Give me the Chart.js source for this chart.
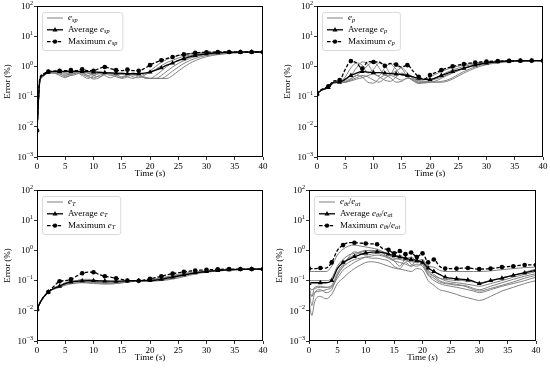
<!DOCTYPE html>
<html>
<head>
<meta charset="utf-8">
<script src="https://cdn.jsdelivr.net/npm/chart.js@4.4.1/dist/chart.umd.min.js"></script>
<style>
  body { margin: 0; background: #fff; width: 550px; height: 368px; position: relative; overflow: hidden; }
  .panel { position: absolute; width: 275px; height: 184px; }
</style>
</head>
<body>
<div class="panel" style="left:0;top:0"><canvas id="c1" width="275" height="184"></canvas></div>
<div class="panel" style="left:275px;top:0"><canvas id="c2" width="275" height="184"></canvas></div>
<div class="panel" style="left:0;top:184px"><canvas id="c3" width="275" height="184"></canvas></div>
<div class="panel" style="left:275px;top:184px"><canvas id="c4" width="275" height="184"></canvas></div>
<script>
// time samples (s), shared by every curve
const times = [0, 0.5, 1,
  2, 3, 4, 5, 6, 7, 8, 9, 10,
  11, 12, 13, 14, 15, 16, 17, 18, 19, 20,
  21, 22, 23, 24, 25, 26, 27, 28, 29, 30,
  32, 34, 36, 38, 40];

const xTicks = [0, 5, 10, 15, 20, 25, 30, 35, 40];
const yDecades = [-3, -2, -1, 0, 1, 2];

const marksEven = [0, 2, 4, 6, 8, 10, 12, 14, 16, 18, 20, 22, 24, 26, 28, 30, 32, 34, 36, 38, 40];
const marksRatio = [0, 2, 4, 6, 8, 10, 12, 14, 15, 16, 17, 18, 19, 20, 21, 22, 24, 26, 28, 30, 32, 34, 36, 38, 40];

// ---- e_sp ----
const avgSp = [0.0075, 0.35, 0.5,
  0.65, 0.68, 0.68, 0.68, 0.68, 0.68, 0.68, 0.67, 0.65,
  0.64, 0.62, 0.61, 0.6, 0.59, 0.58, 0.57, 0.58, 0.6, 0.65,
  0.75, 0.9, 1.1, 1.3, 1.55, 1.8, 2.05, 2.3, 2.45, 2.6,
  2.8, 2.9, 2.95, 3.0, 3.0];
const maxSp = [0.0075, 0.4, 0.55,
  0.67, 0.7, 0.72, 0.72, 0.75, 0.72, 0.8, 0.72, 0.72,
  0.85, 0.95, 0.85, 0.75, 0.72, 0.78, 0.72, 0.72, 0.85, 1.1,
  1.35, 1.6, 1.85, 2.05, 2.3, 2.5, 2.65, 2.8, 2.9, 2.95,
  3.0, 3.0, 3.0, 3.0, 3.0];
const runsSp = [
  [0.0075, 0.3, 0.45,
   0.62, 0.65, 0.6, 0.55, 0.6, 0.65, 0.6, 0.5, 0.55,
   0.62, 0.6, 0.5, 0.55, 0.6, 0.55, 0.45, 0.42, 0.5, 0.7,
   1.0, 1.35, 1.7, 2.0, 2.3, 2.5, 2.65, 2.75, 2.85, 2.9,
   2.95, 3.0, 3.0, 3.0, 3.0],
  [0.0075, 0.32, 0.47,
   0.6, 0.62, 0.65, 0.6, 0.5, 0.55, 0.65, 0.6, 0.5,
   0.45, 0.55, 0.62, 0.55, 0.45, 0.5, 0.6, 0.55, 0.42, 0.4,
   0.5, 0.7, 1.0, 1.3, 1.6, 1.9, 2.2, 2.4, 2.55, 2.7,
   2.85, 2.95, 3.0, 3.0, 3.0],
  [0.0075, 0.3, 0.46,
   0.62, 0.6, 0.55, 0.5, 0.55, 0.62, 0.55, 0.45, 0.42,
   0.5, 0.6, 0.55, 0.45, 0.42, 0.52, 0.6, 0.5, 0.42, 0.4,
   0.4, 0.5, 0.7, 0.95, 1.25, 1.55, 1.85, 2.1, 2.3, 2.5,
   2.75, 2.9, 2.95, 3.0, 3.0],
  [0.0075, 0.33, 0.48,
   0.63, 0.62, 0.58, 0.45, 0.5, 0.6, 0.62, 0.5, 0.38,
   0.42, 0.55, 0.6, 0.5, 0.4, 0.45, 0.55, 0.5, 0.42, 0.4,
   0.4, 0.4, 0.5, 0.7, 0.95, 1.25, 1.55, 1.85, 2.1, 2.3,
   2.6, 2.8, 2.9, 2.95, 3.0],
  [0.0075, 0.31, 0.46,
   0.61, 0.6, 0.5, 0.42, 0.55, 0.62, 0.5, 0.4, 0.48,
   0.58, 0.5, 0.42, 0.5, 0.55, 0.45, 0.4, 0.48, 0.45, 0.4,
   0.4, 0.4, 0.4, 0.5, 0.7, 0.95, 1.25, 1.55, 1.85, 2.1,
   2.45, 2.7, 2.85, 2.9, 2.95],
  [0.0075, 0.34, 0.5,
   0.64, 0.65, 0.66, 0.62, 0.6, 0.62, 0.64, 0.6, 0.56,
   0.58, 0.6, 0.58, 0.55, 0.56, 0.56, 0.52, 0.5, 0.55, 0.62,
   0.8, 1.05, 1.35, 1.6, 1.9, 2.15, 2.35, 2.5, 2.65, 2.75,
   2.9, 2.95, 3.0, 3.0, 3.0]
];

// ---- e_p ----
const avgP = [0.12, 0.15, 0.17,
  0.2, 0.3, 0.3, 0.38, 0.5, 0.6, 0.68, 0.65, 0.62,
  0.62, 0.6, 0.58, 0.56, 0.54, 0.5, 0.45, 0.4, 0.37, 0.37,
  0.42, 0.5, 0.58, 0.68, 0.77, 0.86, 0.98, 1.1, 1.2, 1.3,
  1.42, 1.5, 1.53, 1.55, 1.55];
const maxP = [0.12, 0.16, 0.18,
  0.22, 0.33, 0.35, 0.8, 1.5, 1.3, 0.85, 1.45, 1.4,
  1.4, 1.05, 1.25, 1.15, 0.95, 1.1, 0.7, 0.45, 0.38, 0.52,
  0.62, 0.75, 0.88, 1.0, 1.1, 1.2, 1.28, 1.35, 1.4, 1.45,
  1.5, 1.52, 1.55, 1.55, 1.55];
const runsP = [
  [0.12, 0.15, 0.17,
   0.2, 0.28, 0.3, 0.45, 0.9, 1.3, 1.1, 0.6, 0.8,
   1.3, 1.1, 0.6, 0.7, 0.9, 0.6, 0.4, 0.35, 0.36, 0.45,
   0.55, 0.68, 0.8, 0.92, 1.02, 1.12, 1.22, 1.3, 1.36, 1.42,
   1.48, 1.52, 1.55, 1.55, 1.55],
  [0.12, 0.15, 0.17,
   0.2, 0.3, 0.3, 0.35, 0.5, 0.9, 1.4, 1.2, 0.6,
   0.5, 0.9, 1.2, 0.8, 0.5, 0.55, 0.45, 0.33, 0.32, 0.34,
   0.42, 0.52, 0.64, 0.76, 0.88, 1.0, 1.1, 1.2, 1.28, 1.35,
   1.45, 1.5, 1.53, 1.55, 1.55],
  [0.12, 0.15, 0.17,
   0.2, 0.29, 0.3, 0.3, 0.38, 0.5, 0.7, 1.1, 1.4,
   0.9, 0.5, 0.55, 1.0, 0.85, 0.45, 0.35, 0.3, 0.3, 0.3,
   0.33, 0.4, 0.5, 0.6, 0.72, 0.85, 0.98, 1.1, 1.2, 1.28,
   1.4, 1.48, 1.52, 1.55, 1.55],
  [0.12, 0.15, 0.17,
   0.2, 0.28, 0.29, 0.3, 0.35, 0.42, 0.5, 0.45, 0.35,
   0.3, 0.4, 0.5, 0.42, 0.35, 0.4, 0.38, 0.3, 0.28, 0.3,
   0.3, 0.3, 0.32, 0.38, 0.48, 0.6, 0.74, 0.88, 1.02, 1.14,
   1.32, 1.44, 1.5, 1.53, 1.55],
  [0.12, 0.15, 0.17,
   0.2, 0.29, 0.3, 0.32, 0.4, 0.5, 0.45, 0.3, 0.28,
   0.4, 0.5, 0.42, 0.3, 0.32, 0.42, 0.35, 0.27, 0.3, 0.32,
   0.3, 0.32, 0.35, 0.42, 0.54, 0.68, 0.82, 0.96, 1.1, 1.2,
   1.36, 1.46, 1.52, 1.55, 1.55],
  [0.12, 0.15, 0.17,
   0.2, 0.3, 0.31, 0.3, 0.33, 0.38, 0.42, 0.5, 0.55,
   0.45, 0.35, 0.32, 0.45, 0.6, 0.48, 0.33, 0.28, 0.3, 0.34,
   0.38, 0.44, 0.52, 0.62, 0.74, 0.86, 0.98, 1.1, 1.2, 1.3,
   1.42, 1.5, 1.53, 1.55, 1.55]
];

// ---- e_T ----
const avgT = [0.011, 0.018, 0.026,
  0.042, 0.055, 0.065, 0.08, 0.09, 0.095, 0.098, 0.1, 0.1,
  0.098, 0.097, 0.096, 0.095, 0.096, 0.098, 0.1, 0.1, 0.1, 0.1,
  0.104, 0.11, 0.12, 0.13, 0.142, 0.155, 0.168, 0.18, 0.19, 0.2,
  0.215, 0.228, 0.235, 0.24, 0.24];
const maxT = [0.011, 0.018, 0.026,
  0.042, 0.065, 0.095, 0.1, 0.11, 0.14, 0.175, 0.19, 0.19,
  0.16, 0.14, 0.13, 0.12, 0.11, 0.1, 0.098, 0.098, 0.105, 0.115,
  0.125, 0.14, 0.155, 0.17, 0.18, 0.195, 0.205, 0.215, 0.222, 0.228,
  0.235, 0.24, 0.24, 0.24, 0.24];
const runsT = [
  [0.011, 0.018, 0.026,
   0.042, 0.052, 0.06, 0.07, 0.078, 0.082, 0.085, 0.083, 0.08,
   0.078, 0.076, 0.078, 0.08, 0.085, 0.09, 0.093, 0.095, 0.095, 0.095,
   0.097, 0.1, 0.105, 0.112, 0.122, 0.135, 0.15, 0.165, 0.178, 0.19,
   0.208, 0.222, 0.232, 0.238, 0.24],
  [0.011, 0.018, 0.026,
   0.042, 0.055, 0.065, 0.078, 0.088, 0.092, 0.09, 0.086, 0.084,
   0.082, 0.08, 0.078, 0.08, 0.084, 0.09, 0.095, 0.098, 0.098, 0.098,
   0.1, 0.104, 0.11, 0.12, 0.132, 0.145, 0.16, 0.174, 0.186, 0.196,
   0.212, 0.225, 0.233, 0.238, 0.24],
  [0.011, 0.018, 0.026,
   0.042, 0.058, 0.07, 0.085, 0.095, 0.1, 0.1, 0.098, 0.095,
   0.09, 0.088, 0.086, 0.088, 0.092, 0.096, 0.1, 0.1, 0.1, 0.102,
   0.106, 0.112, 0.12, 0.13, 0.142, 0.155, 0.168, 0.18, 0.19, 0.2,
   0.215, 0.228, 0.235, 0.24, 0.24],
  [0.011, 0.018, 0.026,
   0.042, 0.055, 0.068, 0.08, 0.09, 0.1, 0.11, 0.11, 0.105,
   0.098, 0.092, 0.09, 0.092, 0.095, 0.098, 0.1, 0.1, 0.102, 0.108,
   0.115, 0.124, 0.135, 0.147, 0.16, 0.172, 0.184, 0.194, 0.203, 0.21,
   0.222, 0.232, 0.237, 0.24, 0.24],
  [0.011, 0.018, 0.026,
   0.042, 0.053, 0.062, 0.074, 0.082, 0.086, 0.088, 0.09, 0.092,
   0.094, 0.092, 0.088, 0.086, 0.088, 0.092, 0.096, 0.098, 0.1, 0.104,
   0.11, 0.118, 0.128, 0.14, 0.152, 0.165, 0.178, 0.188, 0.197, 0.205,
   0.218, 0.23, 0.236, 0.24, 0.24],
  [0.011, 0.018, 0.026,
   0.042, 0.056, 0.066, 0.082, 0.092, 0.096, 0.094, 0.09, 0.088,
   0.086, 0.084, 0.082, 0.082, 0.086, 0.092, 0.097, 0.1, 0.1, 0.1,
   0.102, 0.106, 0.114, 0.124, 0.136, 0.15, 0.164, 0.177, 0.188, 0.198,
   0.214, 0.226, 0.234, 0.238, 0.24]
];

// ---- e_theta / e_alpha ----
const avgR = [0.08, 0.085, 0.085,
  0.085, 0.085, 0.1, 0.25, 0.4, 0.5, 0.62, 0.72, 0.82,
  0.88, 0.9, 0.85, 0.75, 0.68, 0.6, 0.55, 0.5, 0.46, 0.4,
  0.26, 0.2, 0.16, 0.13, 0.12, 0.115, 0.11, 0.105, 0.095, 0.08,
  0.1, 0.12, 0.15, 0.18, 0.22];
const maxR = [0.25, 0.25, 0.25,
  0.26, 0.26, 0.4, 1.0, 1.5, 1.8, 1.8, 1.75, 1.7,
  1.65, 1.6, 1.15, 1.05, 0.8, 0.95, 0.75, 0.85, 0.6, 0.8,
  0.4, 0.5, 0.3, 0.25, 0.25, 0.25, 0.26, 0.26, 0.25, 0.24,
  0.25, 0.28, 0.3, 0.33, 0.33];
const runsR = [
  [0.2, 0.2, 0.2,
   0.2, 0.2, 0.3, 0.7, 1.1, 1.4, 1.5, 1.4, 1.3,
   1.2, 1.1, 0.9, 0.8, 0.6, 0.7, 0.55, 0.6, 0.45, 0.5,
   0.3, 0.28, 0.22, 0.2, 0.2, 0.2, 0.2, 0.2, 0.2, 0.2,
   0.21, 0.23, 0.25, 0.27, 0.28],
  [0.06, 0.05, 0.055,
   0.06, 0.06, 0.07, 0.18, 0.35, 0.55, 0.7, 0.85, 0.95,
   1.0, 1.0, 0.9, 0.7, 0.55, 0.5, 0.45, 0.42, 0.4, 0.38,
   0.22, 0.16, 0.12, 0.1, 0.09, 0.085, 0.08, 0.075, 0.07, 0.065,
   0.08, 0.1, 0.13, 0.16, 0.2],
  [0.04, 0.03, 0.04,
   0.045, 0.05, 0.06, 0.12, 0.22, 0.3, 0.4, 0.5, 0.6,
   0.65, 0.7, 0.65, 0.55, 0.45, 0.4, 0.35, 0.3, 0.35, 0.3,
   0.15, 0.1, 0.08, 0.07, 0.065, 0.06, 0.055, 0.05, 0.045, 0.04,
   0.05, 0.065, 0.08, 0.1, 0.13],
  [0.02, 0.007, 0.02,
   0.03, 0.025, 0.035, 0.08, 0.12, 0.18, 0.25, 0.32, 0.4,
   0.42, 0.4, 0.35, 0.3, 0.26, 0.24, 0.22, 0.2, 0.25, 0.22,
   0.1, 0.07, 0.05, 0.045, 0.04, 0.035, 0.03, 0.027, 0.024, 0.022,
   0.03, 0.045, 0.06, 0.08, 0.1],
  [0.05, 0.015, 0.04,
   0.05, 0.04, 0.05, 0.15, 0.3, 0.6, 0.9, 0.8, 0.7,
   0.75, 0.8, 0.7, 0.6, 0.5, 0.65, 0.5, 0.45, 0.4, 0.5,
   0.2, 0.14, 0.1, 0.085, 0.08, 0.075, 0.07, 0.065, 0.055, 0.05,
   0.065, 0.085, 0.11, 0.14, 0.17],
  [0.1, 0.1, 0.1,
   0.1, 0.1, 0.12, 0.3, 0.5, 0.7, 0.8, 0.9, 1.0,
   1.0, 0.95, 0.8, 0.6, 0.45, 0.3, 0.5, 0.35, 0.3, 0.35,
   0.18, 0.14, 0.12, 0.11, 0.105, 0.1, 0.1, 0.095, 0.09, 0.085,
   0.1, 0.12, 0.15, 0.19, 0.24],
  [0.07, 0.03, 0.06,
   0.065, 0.06, 0.065, 0.15, 0.28, 0.4, 0.5, 0.55, 0.6,
   0.55, 0.55, 0.5, 0.45, 0.3, 0.25, 0.4, 0.3, 0.5, 0.35,
   0.16, 0.12, 0.09, 0.08, 0.075, 0.07, 0.068, 0.06, 0.05, 0.045,
   0.055, 0.07, 0.09, 0.12, 0.15]
];

const FONT = "'Liberation Serif', 'DejaVu Serif', serif";
const FS = 9;
const GRAY = '#808080';

function series(arr) {
  return times.map((t, i) => ({ x: t, y: arr[i] }));
}

// draw text made of pieces: 'n' normal, 'i' italic, 's' italic subscript
function richWidth(ctx, parts) {
  let w = 0;
  parts.forEach(([txt, st]) => {
    ctx.font = (st === 'n' ? '' : 'italic ') + (st === 's' ? FS * 0.7 : FS) + 'px ' + FONT;
    w += ctx.measureText(txt).width;
  });
  return w;
}
function drawRich(ctx, parts, x, y) {
  parts.forEach(([txt, st]) => {
    ctx.font = (st === 'n' ? '' : 'italic ') + (st === 's' ? FS * 0.7 : FS) + 'px ' + FONT;
    ctx.fillText(txt, x, st === 's' ? y + 2 : y);
    x += ctx.measureText(txt).width;
  });
}

const decorPlugin = {
  id: 'decor',
  afterDraw(chart, args, opts) {
    const ctx = chart.ctx;
    const a = chart.chartArea;
    const ys = chart.scales.y;
    ctx.save();
    ctx.fillStyle = '#000';
    ctx.strokeStyle = '#000';
    ctx.lineWidth = 1;
    ctx.strokeRect(a.left + 0.5, a.top + 0.5, a.right - a.left - 1, a.bottom - a.top - 1);

    // y tick labels 10^n
    ctx.textBaseline = 'middle';
    yDecades.forEach(p => {
      const y = ys.getPixelForValue(Math.pow(10, p));
      const ex = p < 0 ? '\u2212' + Math.abs(p) : String(p);
      ctx.font = (FS * 0.68) + 'px ' + FONT;
      const ew = ctx.measureText(ex).width;
      ctx.fillText(ex, a.left - 4 - ew, y - 3);
      ctx.font = FS + 'px ' + FONT;
      const bw = ctx.measureText('10').width;
      ctx.fillText('10', a.left - 4 - ew - bw, y + 0.5);
    });

    // axis titles
    ctx.textBaseline = 'middle';
    const xt = [['Time (', 'n'], ['s', 'i'], [')', 'n']];
    const xw = richWidth(ctx, xt);
    drawRich(ctx, xt, (a.left + a.right) / 2 - xw / 2, 174);
    ctx.save();
    ctx.translate(a.left - 29, (a.top + a.bottom) / 2);
    ctx.rotate(-Math.PI / 2);
    ctx.font = FS + 'px ' + FONT;
    ctx.textAlign = 'center';
    ctx.fillText('Error (%)', 0, 0);
    ctx.restore();

    // legend
    const sym = opts.sym;
    const rows = [sym, [['Average ', 'n']].concat(sym), [['Maximum ', 'n']].concat(sym)];
    let tw = 0;
    rows.forEach(r => { tw = Math.max(tw, richWidth(ctx, r)); });
    const bx = a.left + 5, by = a.top + 6;
    const bw = 26 + tw + 5, bh = 38;
    ctx.beginPath();
    ctx.roundRect(bx + 0.5, by + 0.5, bw, bh, 2.5);
    ctx.fillStyle = 'rgba(255,255,255,0.85)';
    ctx.fill();
    ctx.strokeStyle = '#d0d0d0';
    ctx.lineWidth = 0.8;
    ctx.stroke();
    rows.forEach((r, i) => {
      const y = by + 6 + i * 11.8;
      ctx.beginPath();
      ctx.setLineDash(i === 2 ? [3.5, 1.8] : []);
      ctx.strokeStyle = i === 0 ? GRAY : '#000';
      ctx.lineWidth = i === 0 ? 1 : 1.3;
      ctx.moveTo(bx + 5, y);
      ctx.lineTo(bx + 21, y);
      ctx.stroke();
      ctx.setLineDash([]);
      ctx.fillStyle = '#000';
      if (i === 1) {
        ctx.beginPath();
        ctx.moveTo(bx + 13, y - 2.8);
        ctx.lineTo(bx + 15.5, y + 1.6);
        ctx.lineTo(bx + 10.5, y + 1.6);
        ctx.closePath();
        ctx.fill();
      } else if (i === 2) {
        ctx.beginPath();
        ctx.arc(bx + 13, y, 2.2, 0, Math.PI * 2);
        ctx.fill();
      }
      drawRich(ctx, r, bx + 26, y);
    });
    ctx.restore();
  }
};

function makePanel(id, avg, max, runs, marks, sym, left, rightPad) {
  const markRadius = r => c => (marks.includes(times[c.dataIndex]) ? r : 0);
  const datasets = [
    {
      data: series(avg), borderColor: '#000', borderWidth: 1.3,
      pointStyle: 'triangle', pointRadius: markRadius(2.9),
      pointBackgroundColor: '#000', pointBorderColor: '#000', pointBorderWidth: 0
    },
    {
      data: series(max), borderColor: '#000', borderWidth: 1.3, borderDash: [3.5, 1.8],
      pointStyle: 'circle', pointRadius: markRadius(2.3),
      pointBackgroundColor: '#000', pointBorderColor: '#000', pointBorderWidth: 0
    }
  ].concat(runs.map(r => ({
    data: series(r), borderColor: GRAY, borderWidth: 1, pointRadius: 0
  })));

  return new Chart(document.getElementById(id), {
    type: 'line',
    data: { datasets },
    plugins: [decorPlugin],
    options: {
      responsive: false,
      animation: false,
      devicePixelRatio: 1,
      layout: { padding: { left: 0, top: 6, right: rightPad, bottom: 0 } },
      elements: { line: { cubicInterpolationMode: 'monotone' } },
      plugins: { legend: { display: false }, tooltip: { enabled: false }, decor: { sym } },
      scales: {
        x: {
          type: 'linear', min: 0, max: 40,
          afterBuildTicks: s => { s.ticks = xTicks.map(v => ({ value: v })); },
          afterFit: s => { s.height = 27; },
          border: { display: false },
          grid: { drawOnChartArea: false, drawTicks: true, tickLength: 3, color: '#000', lineWidth: 0.8 },
          ticks: { color: '#000', font: { family: FONT, size: FS }, padding: 1, maxRotation: 0, autoSkip: false }
        },
        y: {
          type: 'logarithmic', min: 0.001, max: 100,
          afterBuildTicks: s => { s.ticks = yDecades.map(p => ({ value: Math.pow(10, p) })); },
          afterFit: s => { s.width = left; },
          border: { display: false },
          grid: { drawOnChartArea: false, drawTicks: true, tickLength: 3, color: '#000', lineWidth: 0.8 },
          ticks: { display: false }
        }
      }
    }
  });
}

makePanel('c1', avgSp, maxSp, runsSp, marksEven, [['e', 'i'], ['sp', 's']], 37, 12);
makePanel('c2', avgP, maxP, runsP, marksEven, [['e', 'i'], ['p', 's']], 42, 7);
makePanel('c3', avgT, maxT, runsT, marksEven, [['e', 'i'], ['T', 's']], 37, 12);
makePanel('c4', avgR, maxR, runsR, marksRatio,
  [['e', 'i'], ['\u03b8t', 's'], ['/', 'n'], ['e', 'i'], ['\u03b1t', 's']], 34, 14);
</script>
</body>
</html>
